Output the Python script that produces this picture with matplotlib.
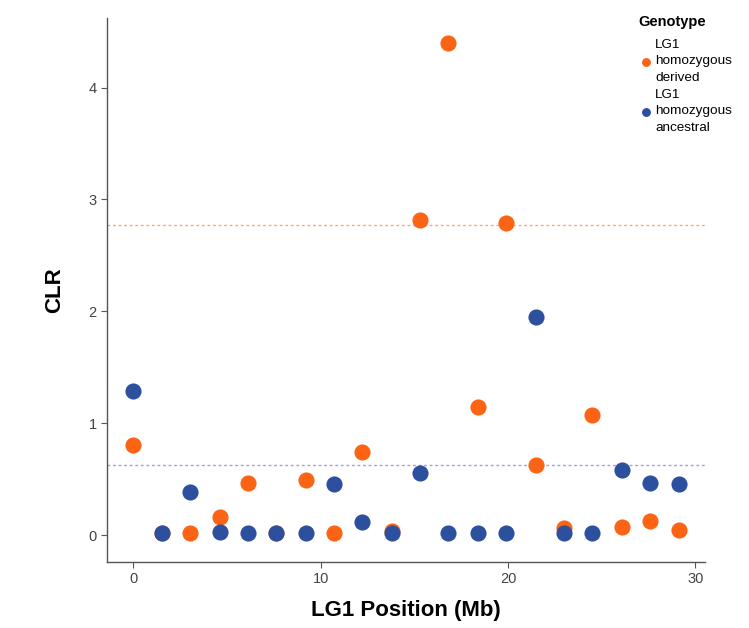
import matplotlib.pyplot as plt

plt.rcParams["font.family"] = ["Liberation Sans", "DejaVu Sans"]

positions = [0.0, 1.55, 3.04, 4.6, 6.1, 7.6, 9.2, 10.7, 12.2, 13.8,
             15.3, 16.8, 18.4, 19.9, 21.5, 23.0, 24.5, 26.1, 27.6, 29.1]
clr_derived = [0.81, 0.02, 0.02, 0.16, 0.47, 0.02, 0.49, 0.02, 0.74, 0.04,
               2.82, 4.40, 1.15, 2.79, 0.63, 0.06, 1.07, 0.07, 0.13, 0.05]
clr_ancestral = [1.29, 0.02, 0.39, 0.03, 0.02, 0.02, 0.02, 0.46, 0.12, 0.02,
                 0.56, 0.02, 0.02, 0.02, 1.95, 0.02, 0.02, 0.58, 0.47, 0.46]
threshold_derived = 2.77
threshold_ancestral = 0.625

ORANGE = "#FA6414"
BLUE = "#2C4F9E"
GREY = "#555555"

fig = plt.figure(figsize=(7.49, 6.28), dpi=100)
ax = fig.add_axes([0.143, 0.105, 0.798, 0.866])

ax.axhline(threshold_derived, ls=(0, (2, 2)), lw=1, c="#F5A77E", zorder=1)
ax.axhline(threshold_ancestral, ls=(0, (2, 2)), lw=1, c="#9AA3D6", zorder=1)

ax.scatter(positions, clr_derived, s=135, c=ORANGE, lw=0, zorder=2,
           label="LG1\nhomozygous\nderived")
ax.scatter(positions, clr_ancestral, s=135, c=BLUE, lw=0, zorder=3,
           label="LG1\nhomozygous\nancestral")

ax.set_xlim(-1.4, 30.5)
ax.set_ylim(-0.24, 4.62)
ax.set_xticks([0, 10, 20, 30])
ax.set_yticks([0, 1, 2, 3, 4])

for side in ["top", "right"]:
    ax.spines[side].set_visible(False)
for side in ["left", "bottom"]:
    ax.spines[side].set_color(GREY)
    ax.spines[side].set_linewidth(1.0)
ax.tick_params(colors=GREY, labelcolor="#444444", labelsize=10.5, length=4, width=0.8)

ax.set_xlabel("LG1 Position (Mb)", fontsize=16, fontweight="bold", labelpad=10)
ax.set_ylabel("CLR", fontsize=16, fontweight="bold", labelpad=17)

leg = fig.legend(loc="upper left", bbox_to_anchor=(0.838, 0.993), frameon=False,
                 title="Genotype", fontsize=9.7, title_fontsize=10.5,
                 markerscale=0.55, handletextpad=0.15, handlelength=1.1,
                 labelspacing=0.35, alignment="left", borderpad=0.3)
leg.get_title().set_fontweight("bold")
leg._legend_box.sep = 7
for t in leg.get_texts():
    t.set_linespacing(1.5)

fig.savefig("out.png")
